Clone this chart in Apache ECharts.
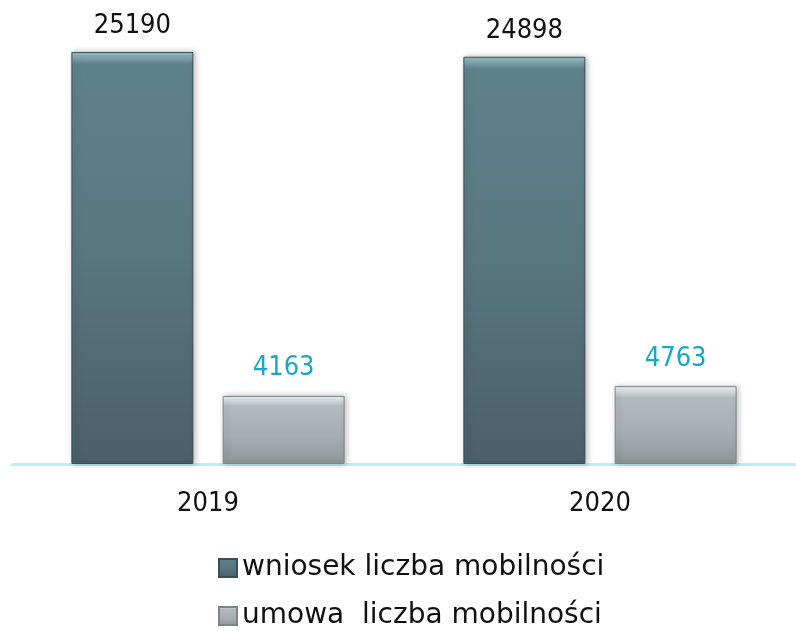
<!DOCTYPE html>
<html lang="pl">
<head>
    <meta charset="UTF-8">
    <title>Mobilności</title>
    <script src="https://cdn.jsdelivr.net/npm/echarts@6/dist/echarts.min.js"></script>
    <style>
        *{
            padding:0;
            margin:0;
        }
        html,body{
            height:100%;
            background:#fff;
        }
        #main{
            width:796px;
            height:631px;
        }
    </style>
</head>
<body>
<div id="main"></div>
<script>
    var years = ['2019', '2020'];
    var wniosek = [25190, 24898];
    var umowa = [4163, 4763];
    var seriesNames = ['wniosek liczba mobilności', 'umowa  liczba mobilności'];

    var font = '"DejaVu Sans Condensed", "DejaVu Sans", sans-serif';
    var legendFont = '"DejaVu Sans", sans-serif';

    var darkFill = new echarts.graphic.LinearGradient(0, 0, 0, 1, [
        {offset: 0, color: '#9fc0ca'},
        {offset: 0.03, color: '#5f818c'},
        {offset: 0.5, color: '#587680'},
        {offset: 1, color: '#4a5f69'}
    ]);
    var greyFill = new echarts.graphic.LinearGradient(0, 0, 0, 1, [
        {offset: 0, color: '#f2f5f6'},
        {offset: 0.15, color: '#b3bbbf'},
        {offset: 0.6, color: '#a7aeb2'},
        {offset: 1, color: '#8f9497'}
    ]);

    function legendBox(name, top) {
        return {
            orient: 'vertical',
            left: 213,
            top: top,
            itemWidth: 18,
            itemHeight: 18,
            icon: 'rect',
            textStyle: {
                fontFamily: legendFont,
                fontSize: 28,
                color: '#111'
            },
            data: [name]
        };
    }

    var myChart = echarts.init(document.getElementById('main'));
    var option = {
        animation: false,
        textStyle: {fontFamily: font},
        grid: {
            left: 12,
            right: -4,
            top: 6,
            bottom: 167
        },
        legend: [
            legendBox(seriesNames[0], 549),
            legendBox(seriesNames[1], 597)
        ],
        xAxis: {
            type: 'category',
            data: years,
            axisLine: {lineStyle: {color: '#bfeef8', width: 3}},
            axisTick: {show: false},
            axisLabel: {
                margin: 26,
                fontSize: 27,
                color: '#111',
                fontFamily: font
            }
        },
        yAxis: {
            type: 'value',
            min: 0,
            max: 28000,
            show: false,
            splitLine: {show: false}
        },
        series: [
            {
                name: seriesNames[0],
                type: 'bar',
                data: wniosek,
                barWidth: 122,
                barGap: '24%',
                itemStyle: {
                    color: darkFill,
                    borderColor: '#3b4d55',
                    borderWidth: 1,
                    shadowColor: 'rgba(0,0,0,0.25)',
                    shadowBlur: 6,
                    shadowOffsetX: 2
                },
                label: {
                    show: true,
                    position: 'top',
                    distance: 12,
                    fontSize: 27,
                    color: '#111',
                    fontFamily: font
                }
            },
            {
                name: seriesNames[1],
                type: 'bar',
                data: umowa,
                barWidth: 122,
                itemStyle: {
                    color: greyFill,
                    borderColor: '#7e8487',
                    borderWidth: 1,
                    shadowColor: 'rgba(0,0,0,0.25)',
                    shadowBlur: 6,
                    shadowOffsetX: 2
                },
                label: {
                    show: true,
                    position: 'top',
                    distance: 14,
                    fontSize: 27,
                    color: '#1aa6c8',
                    fontFamily: font
                }
            }
        ]
    };
    myChart.setOption(option);
</script>
</body>
</html>
